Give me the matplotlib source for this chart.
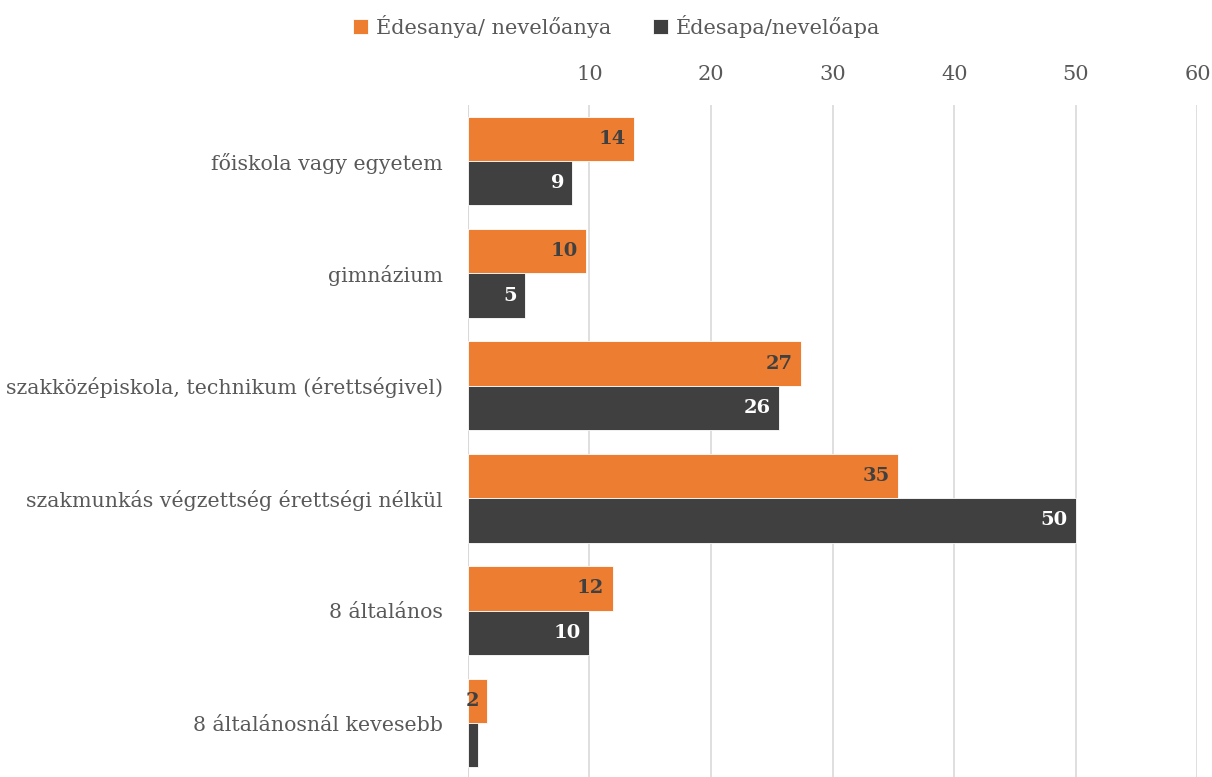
import matplotlib.pyplot as plt
import numpy as np

kategoriak = ['főiskola vagy egyetem', 'gimnázium',
              'szakközépiskola, technikum (érettségivel)',
              'szakmunkás végzettség érettségi nélkül',
              '8 általános', '8 általánosnál kevesebb']
anya = [13.7, 9.7, 27.4, 35.4, 11.9, 1.6]
apa = [8.6, 4.7, 25.6, 50.0, 10.0, 0.8]
sorozatok = ['Édesanya/ nevelőanya', 'Édesapa/nevelőapa']

narancs = '#ED7D31'
sotet = '#404040'
szurke = '#595959'

plt.rcParams['font.family'] = ['DejaVu Serif']

fig = plt.figure(figsize=(12.12, 7.77), dpi=100)
ax = fig.add_axes([0.386, 0.0, 0.602, 0.865])

y = np.arange(len(kategoriak))
h = 0.395
b1 = ax.barh(y - h / 2, anya, height=h, color=narancs, label=sorozatok[0],
             edgecolor='white', linewidth=0.6, zorder=3)
b2 = ax.barh(y + h / 2, apa, height=h, color=sotet, label=sorozatok[1],
             edgecolor='white', linewidth=0.6, zorder=3)

for rect, v in zip(b1, anya):
    ax.annotate(f'{v:.0f}', (rect.get_width(), rect.get_y() + rect.get_height() / 2),
                xytext=(-6, 0), textcoords='offset points', ha='right', va='center',
                fontsize=14, fontweight='bold', color=sotet, zorder=4)
for rect, v in zip(b2, apa):
    ax.annotate(f'{v:.0f}', (rect.get_width(), rect.get_y() + rect.get_height() / 2),
                xytext=(-6, 0), textcoords='offset points', ha='right', va='center',
                fontsize=14, fontweight='bold', color='white', zorder=4,
                annotation_clip=False)

ax.set_xlim(0, 60)
ax.set_ylim(5.48, -0.5)
ax.set_xticks([10, 20, 30, 40, 50, 60])
ax.xaxis.tick_top()
ax.tick_params(axis='x', length=0, labelsize=15, labelcolor=szurke, pad=15)
ax.set_yticks(y)
ax.set_yticklabels(kategoriak)
ax.tick_params(axis='y', length=0, labelsize=14.8, labelcolor=szurke, pad=18)

ax.grid(axis='x', color='#d9d9d9', linewidth=1.2, zorder=0)
ax.axvline(0, color='#d9d9d9', linewidth=1.5, zorder=2)
for s in ax.spines.values():
    s.set_visible(False)

fig.legend(loc='upper center', bbox_to_anchor=(0.509, 1.005), ncol=2, frameon=False,
           fontsize=15, labelcolor=szurke, handlelength=0.7, handleheight=0.7,
           handletextpad=0.4, columnspacing=2.0)

fig.savefig('out.png', dpi=100)
